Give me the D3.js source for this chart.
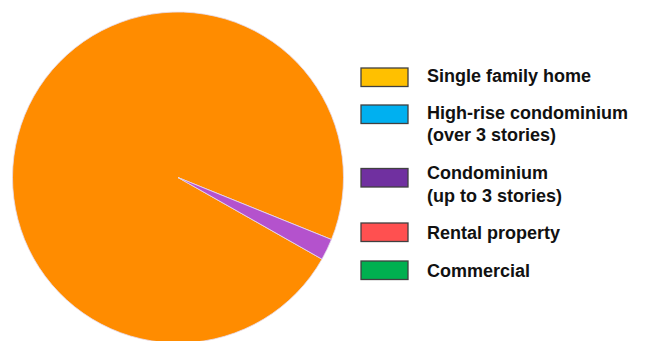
<!DOCTYPE html>
<html>
<head>
<meta charset="utf-8">
<script src="https://cdn.jsdelivr.net/npm/d3@7"></script>
<style>
  html, body { margin: 0; padding: 0; background: #fff; }
  svg { display: block; }
</style>
</head>
<body>
<svg id="chart" width="649" height="341"></svg>
<script>
// Property types and their shares (%)
const categories = ["Single family home", "High-rise condominium\n(over 3 stories)", "Condominium\n(up to 3 stories)", "Rental property", "Commercial"];
const shares = [97.9, 0, 2.1, 0, 0];
const sliceColors = ["#FF8C00", "#00B0F0", "#B452CD", "#FF5050", "#00B050"];
const legendColors = ["#FFC000", "#00B0F0", "#7030A0", "#FF5050", "#00B050"];

const svg = d3.select("#chart");
const cx = 178, cy = 177.5, radius = 165.5;

// rotate so the first slice ends just below the 4 o'clock direction
const endFirst = (112 / 180) * Math.PI;
const start = endFirst - (shares[0] / d3.sum(shares)) * 2 * Math.PI;

const pie = d3.pie().sort(null).value(d => d.v)
  .startAngle(start).endAngle(start + 2 * Math.PI);
const arc = d3.arc().innerRadius(0).outerRadius(radius);

const data = categories.map((c, i) => ({ c, v: shares[i], i }));

svg.append("g").attr("transform", `translate(${cx},${cy})`)
  .selectAll("path")
  .data(pie(data).filter(d => d.data.v > 0))
  .join("path")
  .attr("d", arc)
  .attr("fill", d => sliceColors[d.data.i])
  .attr("stroke", "#e6dcef")
  .attr("stroke-width", 0.8);

// Legend
const rowTops = [68, 105, 168.5, 223, 261];
const baselines = [81.7, 119, 179.3, 239, 277];
const legend = svg.append("g");
const rows = legend.selectAll("g").data(data).join("g");

rows.append("rect")
  .attr("x", 361)
  .attr("y", (d, i) => rowTops[i])
  .attr("width", 47).attr("height", 18.5)
  .attr("fill", (d, i) => legendColors[i])
  .attr("stroke", "#404040").attr("stroke-width", 1.3);

rows.append("text")
  .attr("x", 427)
  .attr("y", (d, i) => baselines[i])
  .attr("font-family", "Liberation Sans, Arial, sans-serif")
  .attr("font-weight", "bold")
  .attr("font-size", 18)
  .attr("fill", "#111")
  .each(function (d) {
    const lines = d.c.split("\n");
    d3.select(this).selectAll("tspan").data(lines).join("tspan")
      .attr("x", 427)
      .attr("dy", (l, j) => j === 0 ? 0 : 22.2)
      .text(l => l);
  });
</script>
</body>
</html>
